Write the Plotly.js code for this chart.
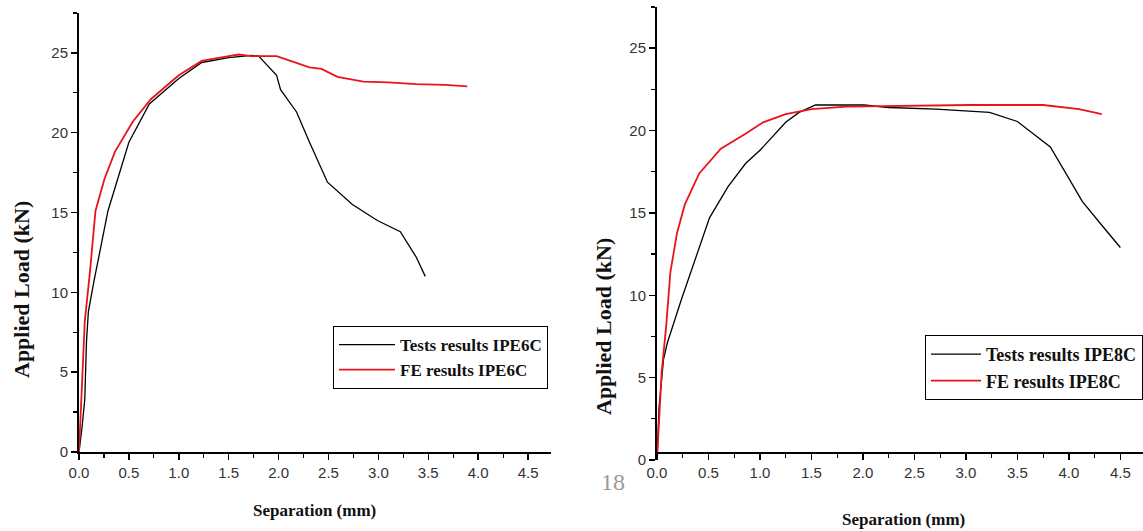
<!DOCTYPE html>
<html><head><meta charset="utf-8">
<script src="https://cdn.plot.ly/plotly-3.0.1.min.js"></script>
<style>body{margin:0;background:#fff}#chart{width:1143px;height:531px}</style>
</head><body><div id="chart"></div>
<script>
// IPE6C
const test6X = [0, 0.03, 0.058, 0.075, 0.094, 0.15, 0.29, 0.5, 0.705, 1.0, 1.23, 1.5, 1.73, 1.8, 1.98, 2.02, 2.18, 2.31, 2.49, 2.74, 2.99, 3.22, 3.38, 3.47];
const test6Y = [0, 1.5, 3.3, 6.9, 8.8, 10.7, 15.1, 19.4, 21.8, 23.4, 24.4, 24.7, 24.85, 24.8, 23.6, 22.7, 21.3, 19.4, 16.9, 15.5, 14.5, 13.8, 12.2, 11.0];
const fe6X = [0, 0.02, 0.058, 0.11, 0.165, 0.255, 0.36, 0.54, 0.72, 1.0, 1.23, 1.5, 1.6, 1.73, 1.98, 2.31, 2.43, 2.59, 2.85, 3.1, 3.38, 3.67, 3.89];
const fe6Y = [0, 2.9, 8.2, 11.3, 15.1, 17.1, 18.8, 20.7, 22.1, 23.6, 24.5, 24.8, 24.9, 24.8, 24.8, 24.1, 24.0, 23.5, 23.2, 23.15, 23.05, 23.0, 22.9];
// IPE8C
const test8X = [0, 0.02, 0.063, 0.1, 0.24, 0.38, 0.51, 0.69, 0.86, 1.0, 1.25, 1.38, 1.54, 2.01, 2.25, 2.71, 2.98, 3.23, 3.5, 3.82, 3.99, 4.13, 4.34, 4.5];
const test8Y = [0, 3.2, 6.1, 7.1, 9.8, 12.3, 14.7, 16.6, 18.0, 18.8, 20.5, 21.1, 21.55, 21.55, 21.4, 21.3, 21.2, 21.1, 20.55, 19.0, 17.2, 15.7, 14.1, 12.9];
const fe8X = [0, 0.02, 0.045, 0.09, 0.13, 0.195, 0.27, 0.41, 0.62, 0.86, 1.03, 1.25, 1.5, 1.84, 2.36, 3.04, 3.75, 4.1, 4.32];
const fe8Y = [0, 2.2, 5.3, 8.2, 11.4, 13.8, 15.5, 17.4, 18.9, 19.8, 20.5, 21.0, 21.3, 21.45, 21.5, 21.55, 21.55, 21.3, 21.0];

const names = ["Tests results IPE6C", "FE results IPE6C", "Tests results IPE8C", "FE results IPE8C"];
const xTicks = [0, 0.5, 1, 1.5, 2, 2.5, 3, 3.5, 4, 4.5];
const xTickText = ["0.0", "0.5", "1.0", "1.5", "2.0", "2.5", "3.0", "3.5", "4.0", "4.5"];
const yTicks = [0, 5, 10, 15, 20, 25];

const W = 1143, H = 531;
const tickFont = {family: "Liberation Sans Narrow, Arial Narrow, Liberation Sans, sans-serif", size: 15, color: "#333"};
const titleFont = {family: "Liberation Serif, Times New Roman, serif", size: 17, color: "#111"};
const yTitleFont = {family: "Liberation Serif, Times New Roman, serif", size: 22, color: "#111"};
const legFont = {family: "Liberation Serif, Times New Roman, serif", size: 17, color: "#111", weight: "bold"};
const legFont2 = {family: "Liberation Serif, Times New Roman, serif", size: 18, color: "#111", weight: "bold"};

function xa(domain, range) {
  return {domain: domain, range: range, showgrid: false, zeroline: false, showline: true, linecolor: "#000", linewidth: 2,
    ticks: "outside", ticklen: 6, tickwidth: 1.5, tickcolor: "#000", tickvals: xTicks, ticktext: xTickText, tickfont: tickFont,
    minor: {ticks: "outside", ticklen: 4, tickwidth: 1.2, tickcolor: "#000", dtick: 0.25, tick0: 0.25, showgrid: false},
    fixedrange: true};
}
function ya(domain, anchor) {
  return {domain: domain, range: [0, 27.5], anchor: anchor, showgrid: false, zeroline: false, showline: true, linecolor: "#000", linewidth: 2,
    ticks: "outside", ticklen: 6, tickwidth: 1.5, tickcolor: "#000", tickvals: yTicks, tickfont: tickFont,
    minor: {ticks: "outside", ticklen: 4, tickwidth: 1.2, tickcolor: "#000", dtick: 2.5, tick0: 2.5, showgrid: false},
    fixedrange: true};
}

const traces = [
  {x: test6X, y: test6Y, name: names[0], mode: "lines", line: {color: "#000", width: 1.3}, xaxis: "x", yaxis: "y", legend: "legend"},
  {x: fe6X, y: fe6Y, name: names[1], mode: "lines", line: {color: "#e8141b", width: 1.8}, xaxis: "x", yaxis: "y", legend: "legend"},
  {x: test8X, y: test8Y, name: names[2], mode: "lines", line: {color: "#000", width: 1.3}, xaxis: "x2", yaxis: "y2", legend: "legend2"},
  {x: fe8X, y: fe8Y, name: names[3], mode: "lines", line: {color: "#e8141b", width: 1.8}, xaxis: "x2", yaxis: "y2", legend: "legend2"}
];

const layout = {
  width: W, height: H, margin: {l: 0, r: 0, t: 0, b: 0},
  paper_bgcolor: "#fff", plot_bgcolor: "#fff", showlegend: true,
  xaxis: xa([79 / W, 551 / W], [0, 4.73]),
  yaxis: ya([(H - 452) / H, (H - 13) / H], "x"),
  xaxis2: xa([657 / W, 1], [0, 4.72]),
  yaxis2: ya([(H - 460) / H, (H - 7) / H], "x2"),
  legend: {x: 333 / W, y: (H - 326) / H, xanchor: "left", yanchor: "top", bgcolor: "#fff", bordercolor: "#000", borderwidth: 1,
    font: legFont, tracegroupgap: 0, itemwidth: 56},
  legend2: {x: 925 / W, y: (H - 335) / H, xanchor: "left", yanchor: "top", bgcolor: "#fff", bordercolor: "#000", borderwidth: 1,
    font: legFont2, tracegroupgap: 0, itemwidth: 50},
  annotations: [
    {text: "<b>Separation (mm)</b>", xref: "paper", yref: "paper", x: 314 / W, y: (H - 510) / H, showarrow: false, font: titleFont, xanchor: "center", yanchor: "middle"},
    {text: "<b>Applied Load (kN)</b>", xref: "paper", yref: "paper", x: 22 / W, y: (H - 290) / H, showarrow: false, font: yTitleFont, textangle: -90, xanchor: "center", yanchor: "middle"},
    {text: "<b>Separation (mm)</b>", xref: "paper", yref: "paper", x: 903 / W, y: (H - 519) / H, showarrow: false, font: titleFont, xanchor: "center", yanchor: "middle"},
    {text: "<b>Applied Load (kN)</b>", xref: "paper", yref: "paper", x: 603 / W, y: (H - 327) / H, showarrow: false, font: yTitleFont, textangle: -90, xanchor: "center", yanchor: "middle"},
    {text: "18", xref: "paper", yref: "paper", x: 613 / W, y: (H - 482) / H, showarrow: false, font: {family: "Liberation Serif, serif", size: 24, color: "#999"}, xanchor: "center", yanchor: "middle"}
  ]
};

Plotly.newPlot("chart", traces, layout, {displayModeBar: false, staticPlot: true});
</script></body></html>
